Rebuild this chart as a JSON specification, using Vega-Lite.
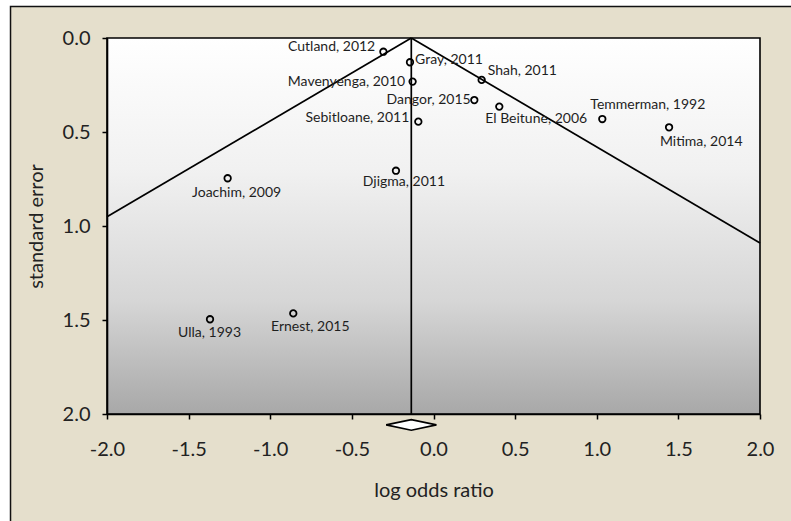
{
  "$schema": "https://vega.github.io/schema/vega-lite/v6.json",
  "width": 653,
  "height": 376,
  "autosize": {"type": "none"},
  "padding": {"left": 107, "top": 38, "right": 31, "bottom": 107},
  "background": "#ffffff",
  "config": {
    "view": {"stroke": null},
    "font": "Lato",
    "axis": {
      "domainColor": "#000000",
      "domainWidth": 1.6,
      "tickColor": "#000000",
      "tickWidth": 1.5,
      "tickSize": 5,
      "grid": false,
      "labelFont": "Lato",
      "labelFontSize": 20,
      "labelColor": "#222222",
      "titleFont": "Lato",
      "titleFontSize": 20,
      "titleFontWeight": "normal",
      "titleColor": "#222222"
    }
  },
  "datasets": {
    "frame": [{"x": -2.591, "x2": 2.5, "y": -0.168, "y2": 2.8}],
    "panel": [{"x": -2, "x2": 2, "y": 0, "y2": 2}],
    "funnel": [
      {"series": "left", "x": -0.136, "y": 0},
      {"series": "left", "x": -2, "y": 0.951},
      {"series": "right", "x": -0.136, "y": 0},
      {"series": "right", "x": 2, "y": 1.09},
      {"series": "pooled", "x": -0.136, "y": 0},
      {"series": "pooled", "x": -0.136, "y": 2}
    ],
    "diamond": [
      {"x": -0.29, "y": 2.058, "y2": 2.058},
      {"x": -0.136, "y": 2.03, "y2": 2.086},
      {"x": 0.018, "y": 2.058, "y2": 2.058}
    ],
    "studies": [
      {"study": "Cutland, 2012", "lor": -0.307, "se": 0.073, "lx": -0.624, "ly": 0.046},
      {"study": "Gray,  2011", "lor": -0.144, "se": 0.129, "lx": 0.095, "ly": 0.117},
      {"study": "Shah, 2011", "lor": 0.295, "se": 0.223, "lx": 0.544, "ly": 0.176},
      {"study": "Mavenyenga, 2010", "lor": -0.128, "se": 0.232, "lx": -0.533, "ly": 0.234},
      {"study": "Dangor, 2015", "lor": 0.25, "se": 0.33, "lx": -0.03, "ly": 0.33},
      {"study": "Sebitloane, 2011", "lor": -0.093, "se": 0.445, "lx": -0.466, "ly": 0.426},
      {"study": "El Beitune, 2006", "lor": 0.403, "se": 0.365, "lx": 0.629, "ly": 0.432},
      {"study": "Temmerman, 1992", "lor": 1.034, "se": 0.431, "lx": 1.313, "ly": 0.356},
      {"study": "Mitima, 2014", "lor": 1.443, "se": 0.475, "lx": 1.64, "ly": 0.552},
      {"study": "Djigma, 2011", "lor": -0.23, "se": 0.706, "lx": -0.181, "ly": 0.766},
      {"study": "Joachim, 2009", "lor": -1.261, "se": 0.746, "lx": -1.206, "ly": 0.823},
      {"study": "Ulla, 1993", "lor": -1.369, "se": 1.496, "lx": -1.372, "ly": 1.571},
      {"study": "Ernest, 2015", "lor": -0.859, "se": 1.465, "lx": -0.755, "ly": 1.539}
    ]
  },
  "layer": [
    {
      "data": {"name": "frame"},
      "mark": {"type": "rect", "fill": "#e5dfcc", "stroke": "#111111", "strokeWidth": 1.5},
      "encoding": {
        "x": {"field": "x", "type": "quantitative", "title": "log odds ratio",
              "scale": {"domain": [-2, 2], "nice": false, "zero": false},
              "axis": {"zindex": 2, "values": [-2, -1.5, -1, -0.5, 0, 0.5, 1, 1.5, 2], "format": ".1f",
                       "labelExpr": "replace(datum.label, '\u2212', '-')",
                       "labelPadding": 20, "titlePadding": 21, "labelFlush": false}},
        "x2": {"field": "x2"},
        "y": {"field": "y", "type": "quantitative", "title": "standard error",
              "scale": {"domain": [0, 2], "nice": false, "zero": false, "reverse": true},
              "axis": {"zindex": 2, "values": [0, 0.5, 1, 1.5, 2], "format": ".1f", "labelPadding": 12, "titlePadding": 16, "labelFlush": false}},
        "y2": {"field": "y2"}
      }
    },
    {
      "data": {"name": "panel"},
      "mark": {
        "type": "rect",
        "stroke": "#000000",
        "strokeWidth": 1.6,
        "color": {
          "gradient": "linear", "x1": 0, "y1": 0, "x2": 0, "y2": 1,
          "stops": [
            {"offset": 0, "color": "#ffffff"},
            {"offset": 0.35, "color": "#f1f1f1"},
            {"offset": 0.7, "color": "#d6d6d6"},
            {"offset": 1, "color": "#a8a8a8"}
          ]
        }
      },
      "encoding": {
        "x": {"field": "x", "type": "quantitative", "title": "log odds ratio"},
        "x2": {"field": "x2"},
        "y": {"field": "y", "type": "quantitative", "title": "standard error"},
        "y2": {"field": "y2"}
      }
    },
    {
      "data": {"name": "funnel"},
      "mark": {"type": "line", "color": "#000000", "strokeWidth": 1.7},
      "encoding": {
        "x": {"field": "x", "type": "quantitative", "title": "log odds ratio"},
        "y": {"field": "y", "type": "quantitative", "title": "standard error"},
        "detail": {"field": "series"}
      }
    },
    {
      "data": {"name": "diamond"},
      "mark": {"type": "area", "orient": "vertical", "fill": "#ffffff", "stroke": "#000000", "strokeWidth": 1.6, "fillOpacity": 1},
      "encoding": {
        "x": {"field": "x", "type": "quantitative", "title": "log odds ratio"},
        "y": {"field": "y", "type": "quantitative", "title": "standard error"},
        "y2": {"field": "y2"}
      }
    },
    {
      "data": {"name": "studies"},
      "mark": {"type": "point", "shape": "circle", "filled": false, "stroke": "#000000", "strokeWidth": 1.8, "size": 42, "opacity": 1},
      "encoding": {
        "x": {"field": "lor", "type": "quantitative", "title": "log odds ratio"},
        "y": {"field": "se", "type": "quantitative", "title": "standard error"}
      }
    },
    {
      "data": {"name": "studies"},
      "mark": {"type": "text", "font": "Lato", "fontSize": 14, "color": "#1e1e1e", "align": "center", "baseline": "middle"},
      "encoding": {
        "x": {"field": "lx", "type": "quantitative", "title": "log odds ratio"},
        "y": {"field": "ly", "type": "quantitative", "title": "standard error"},
        "text": {"field": "study"}
      }
    }
  ]
}
